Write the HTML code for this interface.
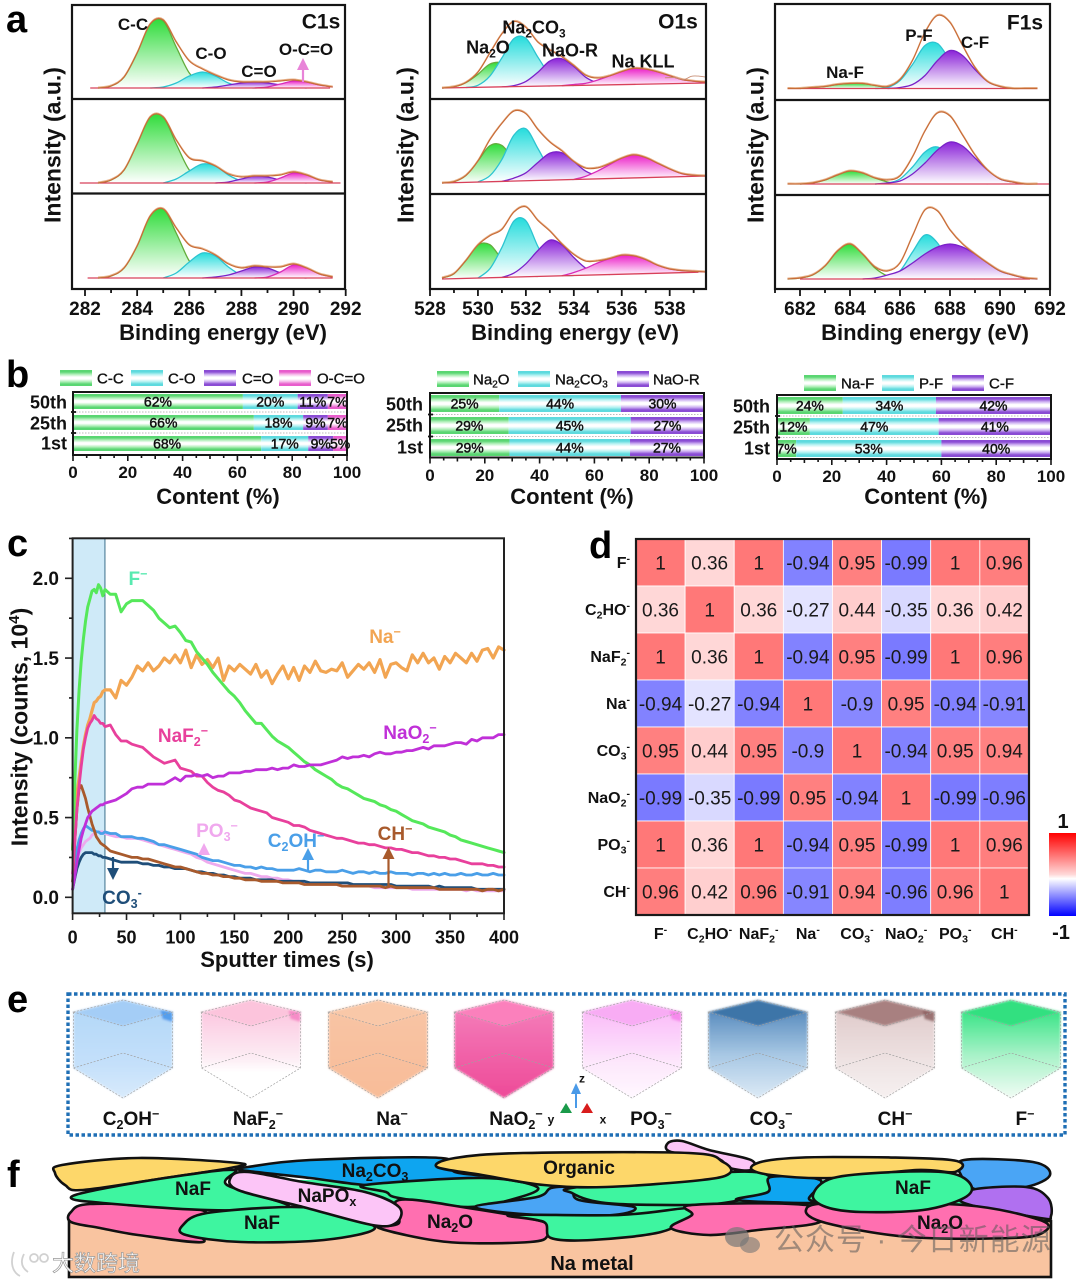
<!DOCTYPE html>
<html lang="en">
<head>
<meta charset="utf-8">
<title>Na metal SEI characterization figure</title>
<style>
html,body{margin:0;padding:0;background:#fff}
svg{display:block;filter:blur(.35px)}
text{font-family:"Liberation Sans","Noto Sans CJK SC",sans-serif;fill:#111}
.letter{font-size:38px;font-weight:bold;fill:#000}
</style>
</head>
<body>
<svg id="figure" xmlns="http://www.w3.org/2000/svg" width="1080" height="1282" viewBox="0 0 1080 1282">
  <defs id="defs">
    <linearGradient id="cb" x1="0" y1="0" x2="0" y2="1">
      <stop offset="0" stop-color="#f00"/><stop offset=".5" stop-color="#ffd8d8"/><stop offset=".55" stop-color="#fff"/><stop offset=".62" stop-color="#d8d8ff"/><stop offset="1" stop-color="#00f"/>
    </linearGradient>
    <filter id="soft" x="-5%" y="-5%" width="110%" height="110%"><feGaussianBlur stdDeviation="1.1"/></filter>
  </defs>
  <rect width="1080" height="1282" fill="#fff"/>
  <g id="panelA"></g>
  <g id="panelB"></g>
  <g id="panelC"></g>
  <g id="panelD"></g>
  <g id="panelE"></g>
  <g id="panelF"></g>
  <text class="letter" x="6" y="32">a</text>
  <text class="letter" x="6" y="387">b</text>
  <text class="letter" x="7" y="556">c</text>
  <text class="letter" x="589" y="558">d</text>
  <text class="letter" x="7" y="1012">e</text>
  <text class="letter" x="7" y="1187">f</text>
</svg>
<script>
/* ---------- Panel a: XPS data (energy grids and component intensities) ---------- */
const c1sEnergies = [282.5,283,283.5,284,284.5,285,285.5,286,286.5,287,287.5,288,288.5,289,289.5,290,290.5,291,291.5];
const c1sTopCC  = [0,2,11,35,64,67,41,15,3,0,0,0,0,0,0,0,0,0,0];
const c1sTopCO  = [0,0,0,0,0,1,5,12,16,12,5,1,0,0,0,0,0,0,0];
const c1sTopCdO = [0,0,0,0,0,0,0,0,0,1,3,5,6,5,3,1,0,0,0];
const c1sTopOCO = [0,0,0,0,0,0,0,0,0,0,0,0,0,1,4,7,6,3,1];
const c1sMidCC  = [0,3,13,39,66,66,39,13,3,0,0,0,0,0,0,0,0,0,0];
const c1sMidCO  = [0,0,0,0,0,0,4,12,19,17,8,2,0,0,0,0,0,0,0];
const c1sMidCdO = [0,0,0,0,0,0,0,0,0,0,1,4,7,6,3,1,0,0,0];
const c1sMidOCO = [0,0,0,0,0,0,0,0,0,0,0,0,0,1,5,10,8,3,1];
const c1sBotCC  = [0,2,10,32,62,69,45,17,4,0,0,0,0,0,0,0,0,0,0];
const c1sBotCO  = [0,0,0,0,0,0,5,16,25,22,11,3,1,0,0,0,0,0,0];
const c1sBotCdO = [0,0,0,0,0,0,0,0,0,1,3,7,11,10,5,1,0,0,0];
const c1sBotOCO = [0,0,0,0,0,0,0,0,0,0,0,0,0,1,6,13,10,4,1];

const o1sEnergies = [528.5,529,529.5,530,530.5,531,531.5,532,532.5,533,533.5,534,534.5,535,535.5,536,536.5,537,537.5,538,538.5,539,539.5];
const o1sTopNa2O   = [0,1,5,13,23,24,16,6,1,0,0,0,0,0,0,0,0,0,0,0,0,0,0];
const o1sTopNa2CO3 = [0,0,0,2,11,29,48,48,29,11,2,0,0,0,0,0,0,0,0,0,0,0,0];
const o1sTopNaOR   = [0,0,0,0,0,0,1,5,14,25,27,19,8,2,0,0,0,0,0,0,0,0,0];
const o1sTopKLL    = [0,0,0,0,0,0,0,0,0,0,0,1,2,5,9,13,16,15,12,8,4,2,1];
const o1sMidNa2O   = [0,1,7,21,36,36,21,7,1,0,0,0,0,0,0,0,0,0,0,0,0,0,0];
const o1sMidNa2CO3 = [0,0,0,0,6,22,46,52,32,11,2,0,0,0,0,0,0,0,0,0,0,0,0];
const o1sMidNaOR   = [0,0,0,0,0,0,3,8,18,27,27,18,8,3,1,0,0,0,0,0,0,0,0];
const o1sMidKLL    = [0,0,0,0,0,0,0,0,0,0,0,0,3,8,14,20,23,20,14,8,3,1,0];
const o1sBotNa2O   = [1,5,18,33,33,18,5,1,0,0,0,0,0,0,0,0,0,0,0,0,0,0,0];
const o1sBotNa2CO3 = [0,0,0,0,9,30,56,56,30,9,1,0,0,0,0,0,0,0,0,0,0,0,0];
const o1sBotNaOR   = [0,0,0,0,0,0,4,13,26,36,31,18,7,2,0,0,0,0,0,0,0,0,0];
const o1sBotKLL    = [0,0,0,0,0,0,0,0,0,0,0,3,7,12,16,19,18,14,8,4,2,1,0];
const o1sBackground = [5,7,7];
const o1sRawTailEnergies = [537.8,538.2,538.6,538.9,539.2,539.5];
const o1sRawTailValues = [6,6,4,7,7,6];

const f1sEnergies = [681.5,682,682.5,683,683.5,684,684.5,685,685.5,686,686.5,687,687.5,688,688.5,689,689.5,690,690.5,691,691.5];
const f1sTopNaF = [0,0,1,2,4,5,5,3,1,0,0,0,0,0,0,0,0,0,0,0,0];
const f1sTopPF  = [0,0,0,0,0,0,0,0,1,8,24,43,45,28,10,2,0,0,0,0,0];
const f1sTopCF  = [0,0,0,0,0,0,0,0,0,1,4,13,28,38,33,19,7,2,0,0,0];
const f1sMidNaF = [0,0,1,4,9,13,11,6,2,0,0,0,0,0,0,0,0,0,0,0,0];
const f1sMidPF  = [0,0,0,0,0,0,0,0,1,5,17,32,37,26,11,3,0,0,0,0,0];
const f1sMidCF  = [0,0,0,0,0,0,0,0,1,3,10,21,34,42,38,26,14,5,2,0,0];
const f1sBotNaF = [0,1,4,13,28,35,25,11,3,0,0,0,0,0,0,0,0,0,0,0,0];
const f1sBotPF  = [0,0,0,0,0,0,0,0,1,8,27,44,36,14,3,0,0,0,0,0,0];
const f1sBotCF  = [0,0,0,0,0,0,0,1,4,8,16,25,32,35,32,25,16,8,4,1,0];

/* ---------- Panel b: stacked content values ---------- */
const cycleLabels = ['50th','25th','1st'];
const c1sShares = [[62,20,11,7],[66,18,9,7],[68,17,9,5]];
const o1sShares = [[25,44,30],[29,45,27],[29,44,27]];
const f1sShares = [[24,34,42],[12,47,41],[7,53,40]];
const contentTicks = [0,20,40,60,80,100];

/* ---------- Panel c: depth profiles ---------- */
const sputterTimes = [0,2,4,6,8,10,12,14,16,18,20,22,24,26,28,30,35,40,45,50,55,60,65,70,75,80,85,90,95,100,105,110,115,120,125,130,135,140,145,150,155,160,165,170,175,180,185,190,195,200,205,210,215,220,225,230,235,240,245,250,255,260,265,270,275,280,285,290,295,300,305,310,315,320,325,330,335,340,345,350,355,360,365,370,375,380,385,390,395,400];
const seriesF = [.30,.72,1.05,1.30,1.48,1.62,1.73,1.82,1.87,1.92,1.93,1.91,1.96,1.94,1.89,1.93,1.90,1.90,1.79,1.84,1.86,1.86,1.86,1.83,1.80,1.75,1.72,1.69,1.70,1.66,1.61,1.60,1.54,1.50,1.46,1.41,1.37,1.33,1.29,1.26,1.22,1.17,1.13,1.09,1.09,1.05,1.01,.98,.96,.94,.91,.88,.85,.83,.80,.78,.76,.74,.71,.69,.68,.66,.64,.62,.61,.60,.58,.57,.55,.54,.52,.50,.48,.47,.46,.44,.43,.42,.41,.39,.38,.36,.35,.34,.33,.32,.31,.30,.29,.28];
const seriesNa = [.30,.50,.65,.75,.85,.95,1.02,1.08,1.12,1.17,1.22,1.23,1.25,1.26,1.29,1.30,1.30,1.25,1.36,1.33,1.38,1.45,1.42,1.47,1.42,1.45,1.50,1.47,1.52,1.47,1.55,1.44,1.52,1.46,1.49,1.44,1.50,1.36,1.45,1.42,1.46,1.43,1.40,1.46,1.38,1.42,1.34,1.40,1.45,1.37,1.44,1.36,1.45,1.41,1.48,1.42,1.41,1.43,1.42,1.47,1.38,1.42,1.46,1.43,1.47,1.41,1.49,1.38,1.46,1.47,1.44,1.42,1.52,1.47,1.53,1.47,1.50,1.43,1.51,1.47,1.53,1.50,1.47,1.53,1.48,1.55,1.56,1.50,1.57,1.55];
const seriesNaF2 = [.15,.35,.55,.70,.82,.93,1.00,1.06,1.09,1.11,1.14,1.12,1.11,1.09,1.09,1.07,1.08,1.02,.98,.98,.96,.95,.94,.91,.88,.86,.84,.85,.86,.81,.80,.79,.76,.76,.72,.69,.67,.66,.64,.61,.60,.58,.56,.55,.54,.53,.50,.49,.48,.47,.45,.45,.44,.42,.41,.40,.39,.38,.37,.37,.36,.35,.34,.34,.33,.33,.32,.31,.31,.30,.30,.29,.28,.28,.27,.26,.26,.25,.25,.24,.24,.23,.22,.21,.21,.21,.20,.20,.19,.19];
const seriesNaO2 = [.05,.13,.22,.30,.37,.42,.46,.50,.52,.54,.55,.56,.57,.58,.58,.59,.60,.61,.63,.65,.68,.69,.69,.71,.71,.71,.71,.73,.75,.73,.76,.76,.77,.76,.77,.75,.76,.76,.78,.78,.78,.79,.79,.80,.80,.80,.81,.80,.81,.81,.83,.82,.82,.83,.83,.83,.84,.85,.86,.88,.87,.88,.88,.89,.88,.90,.91,.90,.90,.91,.91,.92,.92,.93,.94,.93,.95,.95,.95,.96,.97,.97,.96,.99,.98,1.00,1.00,1.00,1.02,1.02];
const seriesPO3 = [.10,.17,.23,.28,.31,.33,.35,.36,.37,.39,.40,.41,.41,.41,.41,.40,.39,.38,.38,.37,.37,.37,.36,.35,.34,.33,.32,.31,.30,.29,.28,.27,.25,.24,.22,.21,.20,.19,.18,.17,.16,.15,.15,.14,.13,.13,.12,.12,.11,.11,.10,.10,.09,.09,.09,.08,.08,.08,.08,.07,.07,.07,.07,.07,.07,.06,.06,.06,.06,.06,.06,.06,.05,.05,.05,.05,.05,.05,.05,.05,.05,.05,.04,.05,.04,.04,.04,.04,.04,.04];
const seriesC2OH = [.10,.20,.30,.36,.40,.43,.45,.44,.43,.42,.42,.41,.41,.40,.40,.41,.40,.40,.38,.38,.38,.37,.37,.36,.35,.33,.33,.32,.31,.30,.29,.28,.27,.25,.24,.23,.23,.22,.21,.20,.20,.19,.19,.18,.19,.18,.18,.17,.17,.17,.17,.18,.17,.16,.17,.17,.16,.16,.16,.17,.16,.15,.16,.16,.15,.16,.15,.15,.16,.15,.15,.15,.14,.15,.15,.14,.15,.14,.15,.14,.14,.15,.14,.14,.15,.14,.14,.15,.14,.14];
const seriesCO3 = [.05,.12,.18,.22,.25,.27,.28,.28,.28,.28,.27,.27,.26,.26,.25,.25,.24,.23,.22,.22,.22,.22,.21,.21,.20,.20,.19,.19,.18,.18,.18,.17,.16,.16,.15,.15,.14,.14,.13,.13,.12,.12,.12,.11,.11,.11,.11,.10,.10,.10,.10,.10,.10,.09,.09,.09,.09,.09,.09,.09,.09,.08,.08,.08,.08,.08,.08,.08,.08,.07,.07,.07,.07,.07,.07,.07,.06,.07,.06,.06,.06,.06,.06,.06,.05,.05,.05,.05,.05,.05];
const seriesCH = [.10,.35,.55,.68,.70,.66,.62,.56,.51,.46,.42,.38,.36,.34,.33,.32,.29,.28,.27,.26,.25,.25,.24,.24,.23,.22,.21,.20,.19,.19,.18,.17,.16,.15,.15,.14,.14,.13,.13,.12,.12,.11,.11,.11,.10,.10,.10,.10,.09,.09,.09,.09,.08,.08,.08,.08,.08,.08,.08,.07,.07,.07,.07,.07,.07,.07,.07,.06,.07,.06,.06,.06,.06,.06,.06,.06,.06,.05,.05,.05,.05,.05,.05,.05,.05,.04,.05,.05,.04,.05];
const timeTicks = [0,50,100,150,200,250,300,350,400];
const intensityTicks = [0,0.5,1,1.5,2];

/* ---------- Panel d: correlation matrix ---------- */
const ionLabels = ['F^-','C_2HO^-','NaF_2^-','Na^-','CO_3^-','NaO_2^-','PO_3^-','CH^-'];
const corrF    = [1,.36,1,-.94,.95,-.99,1,.96];
const corrC2HO = [.36,1,.36,-.27,.44,-.35,.36,.42];
const corrNaF2 = [1,.36,1,-.94,.95,-.99,1,.96];
const corrNa   = [-.94,-.27,-.94,1,-.9,.95,-.94,-.91];
const corrCO3  = [.95,.44,.95,-.9,1,-.94,.95,.94];
const corrNaO2 = [-.99,-.35,-.99,.95,-.94,1,-.99,-.96];
const corrPO3  = [1,.36,1,-.94,.95,-.99,1,.96];
const corrCH   = [.96,.42,.96,-.91,.94,-.96,.96,1];

/* ---------- helpers ---------- */
const SVGNS = 'http://www.w3.org/2000/svg';
function mark(parent, tag, attrs, name, interact) {
  const node = document.createElementNS(SVGNS, tag);
  for (const k in attrs) node.setAttribute(k, attrs[k]);
  
  
  parent.appendChild(node);
  return node;
}
/* rich text: _x = subscript, ^x = superscript; y is the vertical centre */
function label(parent, cx, cy, str, opts, name) {
  const fs = opts.size;
  const t = mark(parent, 'text', {
    x: cx, y: cy + fs * 0.36,
    'text-anchor': opts.anchor || 'middle',
    'font-size': fs,
    'font-weight': opts.weight || 'bold',
    fill: opts.fill || '#111'
  }, name, false);
  t.style.fill = opts.fill || '#111';
  if (opts.stroke) { t.style.stroke = opts.stroke; t.style.strokeWidth = opts.strokeWidth || .3; }
  if (opts.rotate) t.setAttribute('transform', 'rotate(' + opts.rotate + ' ' + cx + ' ' + cy + ')');
  const parts = str.split(/([_^].)/).filter(s => s.length);
  let cur = 0;
  parts.forEach(p => {
    const span = document.createElementNS(SVGNS, 'tspan');
    let target = 0, txt = p;
    if (p[0] === '_') { target = fs * .22; txt = p.slice(1); span.setAttribute('font-size', fs * .66); }
    else if (p[0] === '^') { target = -fs * .36; txt = p.slice(1); span.setAttribute('font-size', fs * .66); }
    if (target !== cur) span.setAttribute('dy', target - cur);
    cur = target;
    span.textContent = txt;
    t.appendChild(span);
  });
  return t;
}
function smoothOpen(p) {
  let d = 'M' + p[0][0].toFixed(1) + ' ' + p[0][1].toFixed(1);
  for (let i = 0; i < p.length - 1; i++) {
    const a = p[Math.max(0, i - 1)], b = p[i], c = p[i + 1], e = p[Math.min(p.length - 1, i + 2)];
    d += 'C' + (b[0] + (c[0] - a[0]) / 6).toFixed(1) + ' ' + (b[1] + (c[1] - a[1]) / 6).toFixed(1) + ' ' +
      (c[0] - (e[0] - b[0]) / 6).toFixed(1) + ' ' + (c[1] - (e[1] - b[1]) / 6).toFixed(1) + ' ' + c[0].toFixed(1) + ' ' + c[1].toFixed(1);
  }
  return d;
}
function smoothClosed(p) {
  const n = p.length;
  let d = 'M' + p[0][0] + ' ' + p[0][1];
  for (let i = 0; i < n; i++) {
    const a = p[(i - 1 + n) % n], b = p[i], c = p[(i + 1) % n], e = p[(i + 2) % n];
    d += 'C' + (b[0] + (c[0] - a[0]) / 6).toFixed(1) + ' ' + (b[1] + (c[1] - a[1]) / 6).toFixed(1) + ' ' +
      (c[0] - (e[0] - b[0]) / 6).toFixed(1) + ' ' + (c[1] - (e[1] - b[1]) / 6).toFixed(1) + ' ' + c[0] + ' ' + c[1];
  }
  return d + 'Z';
}
const defs = document.getElementById('defs');
function vGrad(id, stops) {
  const g = document.createElementNS(SVGNS, 'linearGradient');
  g.setAttribute('id', id);
  g.setAttribute('x1', 0); g.setAttribute('y1', 0); g.setAttribute('x2', 0); g.setAttribute('y2', 1);
  stops.forEach(s => {
    const st = document.createElementNS(SVGNS, 'stop');
    st.setAttribute('offset', s[0]);
    st.setAttribute('stop-color', s[1]);
    g.appendChild(st);
  });
  defs.appendChild(g);
}
const peakColors = {
  green:  {top: '#2fdc3a', line: '#62ac3c', band: '#5ad672', soft: '#b4f0bc'},
  cyan:   {top: '#24dcdc', line: '#2cc4d0', band: '#5edade', soft: '#b8f2f2'},
  purple: {top: '#8a22d8', line: '#7a22c8', band: '#8a4cd4', soft: '#ceb2f2'},
  pink:   {top: '#ec20c8', line: '#d82cb8', band: '#e85ccc', soft: '#f6bcea'}
};
for (const k in peakColors) {
  const c = peakColors[k];
  vGrad('peak-' + k, [[0, c.top], [1, '#ffffff']]);
  vGrad('bar-' + k, [[0, c.band], [.12, c.band], [.28, c.soft], [.44, '#ffffff'], [.56, '#ffffff'], [.72, c.soft], [.88, c.band], [1, c.band]]);
}

/* ---------- Panel a ---------- */
const panelA = document.getElementById('panelA');
const rowNames = ['50th', '25th', '1st'];
function xpsPanel(cfg) {
  const g = mark(panelA, 'g', {}, 'xps-' + cfg.id, false);
  const xOf = e => cfg.x0 + (e - cfg.e0) * cfg.scale;
  const span = cfg.energies[cfg.energies.length - 1] - cfg.energies[0];
  cfg.rows.forEach((row, r) => {
    const bg = cfg.bg ? cfg.bg[r] : 0;
    const bgAt = e => bg * (e - cfg.energies[0]) / span;
    const yOf = (e, v) => cfg.base[r] - bgAt(e) - v;
    row.forEach((peak, pi) => {
      let a = peak.values.findIndex(v => v > 0);
      let b = peak.values.length - 1 - [...peak.values].reverse().findIndex(v => v > 0);
      a = Math.max(0, a - 1);
      b = Math.min(peak.values.length - 1, b + 1);
      const pts = [];
      for (let i = a; i <= b; i++) pts.push([xOf(cfg.energies[i]), yOf(cfg.energies[i], peak.values[i])]);
      const d = smoothOpen(pts);
      mark(g, 'path', {d: d + 'L' + pts[pts.length - 1][0].toFixed(1) + ' ' + yOf(cfg.energies[b], 0).toFixed(1) + 'L' + pts[0][0].toFixed(1) + ' ' + yOf(cfg.energies[a], 0).toFixed(1) + 'Z', fill: 'url(#peak-' + peak.color + ')'}, cfg.id + '-' + rowNames[r] + '-' + peak.key + '-fill', false);
      mark(g, 'path', {d: d, fill: 'none', stroke: peakColors[peak.color].line, 'stroke-width': 1.3}, cfg.id + '-' + rowNames[r] + '-' + peak.key + '-fit', false);
    });
    const sum = cfg.energies.map((e, i) => [xOf(e), yOf(e, row.reduce((s, p) => s + p.values[i], 0))]);
    const range = cfg.ranges[r];
    mark(g, 'line', {x1: xOf(range[0]), x2: xOf(range[1]), y1: yOf(range[0], 0), y2: yOf(range[1], 0), stroke: '#d8405a', 'stroke-width': 1.3}, cfg.id + '-' + rowNames[r] + '-background', false);
    mark(g, 'path', {d: smoothOpen(sum.map(p => [p[0], p[1] - 1])), fill: 'none', stroke: '#e8b48c', 'stroke-width': 1}, cfg.id + '-' + rowNames[r] + '-raw-spectrum', false);
    mark(g, 'path', {d: smoothOpen(sum), fill: 'none', stroke: '#c86c38', 'stroke-width': 1.2}, cfg.id + '-' + rowNames[r] + '-envelope', false);
    if (cfg.rawTail && r === 0) {
      const tail = cfg.rawTail.energies.map((e, i) => [xOf(e), yOf(e, cfg.rawTail.values[i])]);
      mark(g, 'path', {d: smoothOpen(tail), fill: 'none', stroke: '#c89078', 'stroke-width': .9}, cfg.id + '-raw-tail', false);
    }
  });
  mark(g, 'rect', {x: cfg.left, y: cfg.top, width: cfg.right - cfg.left, height: 289 - cfg.top, fill: 'none', stroke: '#151515', 'stroke-width': 2.2}, cfg.id + '-frame', false);
  cfg.dividers.forEach((y, i) => {
    mark(g, 'line', {x1: cfg.left, x2: cfg.right, y1: y, y2: y, stroke: '#151515', 'stroke-width': 2.2}, cfg.id + '-divider-' + (i + 1), false);
  });
  let tickD = '';
  for (let e = Math.ceil((cfg.left - cfg.x0) / cfg.scale + cfg.e0); xOf(e) <= cfg.right + 1; e++) {
    const major = (e % 2 === 0);
    tickD += 'M' + xOf(e) + ' 289V' + (289 + (major ? 7 : 4));
    if (major) label(g, xOf(e), 308, String(e), {size: 19}, cfg.id + '-x-tick-' + e);
  }
  mark(g, 'path', {d: tickD, stroke: '#151515', 'stroke-width': 1.8, fill: 'none'}, cfg.id + '-x-ticks', false);
  label(g, cfg.titleX, 332, 'Binding energy (eV)', {size: 22}, cfg.id + '-x-axis-title');
  label(g, cfg.yTitleX, 145, 'Intensity (a.u.)', {size: 23, rotate: -90}, cfg.id + '-y-axis-title');
  cfg.notes.forEach(n => label(g, n[0], n[1], n[2], {size: n[3] || 18}, cfg.id + '-label-' + n[2].replace(/[_^=]/g, '').toLowerCase().replace(/\s/g, '-')));
}
xpsPanel({
  id: 'c1s', energies: c1sEnergies, e0: 282, x0: 85, scale: 26.07, left: 72, right: 345, top: 5,
  base: [88, 183, 278], dividers: [99, 193.5],
  ranges: [[282.2, 291.4], [281.8, 291.8], [282.1, 291.5]],
  titleX: 223, yTitleX: 52,
  rows: [
    [{key: 'c-c', color: 'green', values: c1sTopCC}, {key: 'c-o', color: 'cyan', values: c1sTopCO}, {key: 'c-double-o', color: 'purple', values: c1sTopCdO}, {key: 'o-c-double-o', color: 'pink', values: c1sTopOCO}],
    [{key: 'c-c', color: 'green', values: c1sMidCC}, {key: 'c-o', color: 'cyan', values: c1sMidCO}, {key: 'c-double-o', color: 'purple', values: c1sMidCdO}, {key: 'o-c-double-o', color: 'pink', values: c1sMidOCO}],
    [{key: 'c-c', color: 'green', values: c1sBotCC}, {key: 'c-o', color: 'cyan', values: c1sBotCO}, {key: 'c-double-o', color: 'purple', values: c1sBotCdO}, {key: 'o-c-double-o', color: 'pink', values: c1sBotOCO}]
  ],
  notes: [[133, 24, 'C-C', 17], [211, 53, 'C-O', 17], [259, 71, 'C=O', 17], [306, 49, 'O-C=O', 17], [321, 21, 'C1s', 21]]
});
xpsPanel({
  id: 'o1s', energies: o1sEnergies, e0: 528, x0: 430, scale: 23.97, left: 430, right: 706, top: 4, bg: o1sBackground,
  base: [88, 183, 279], dividers: [99, 194],
  ranges: [[528.5, 539.5], [528.5, 539.5], [528.5, 539.2]],
  titleX: 575, yTitleX: 405,
  rawTail: {energies: o1sRawTailEnergies, values: o1sRawTailValues},
  rows: [
    [{key: 'na2o', color: 'green', values: o1sTopNa2O}, {key: 'na2co3', color: 'cyan', values: o1sTopNa2CO3}, {key: 'nao-r', color: 'purple', values: o1sTopNaOR}, {key: 'na-kll', color: 'pink', values: o1sTopKLL}],
    [{key: 'na2o', color: 'green', values: o1sMidNa2O}, {key: 'na2co3', color: 'cyan', values: o1sMidNa2CO3}, {key: 'nao-r', color: 'purple', values: o1sMidNaOR}, {key: 'na-kll', color: 'pink', values: o1sMidKLL}],
    [{key: 'na2o', color: 'green', values: o1sBotNa2O}, {key: 'na2co3', color: 'cyan', values: o1sBotNa2CO3}, {key: 'nao-r', color: 'purple', values: o1sBotNaOR}, {key: 'na-kll', color: 'pink', values: o1sBotKLL}]
  ],
  notes: [[488, 47, 'Na_2O', 18], [534, 27, 'Na_2CO_3', 18], [570, 50, 'NaO-R', 18], [643, 61, 'Na KLL', 18], [678, 21, 'O1s', 21]]
});
xpsPanel({
  id: 'f1s', energies: f1sEnergies, e0: 682, x0: 800, scale: 25, left: 775, right: 1050, top: 4,
  base: [88.5, 184, 279], dividers: [100, 195],
  ranges: [[681.5, 691.5], [682, 692], [682, 691.2]],
  titleX: 925, yTitleX: 755,
  rows: [
    [{key: 'na-f', color: 'green', values: f1sTopNaF}, {key: 'p-f', color: 'cyan', values: f1sTopPF}, {key: 'c-f', color: 'purple', values: f1sTopCF}],
    [{key: 'na-f', color: 'green', values: f1sMidNaF}, {key: 'p-f', color: 'cyan', values: f1sMidPF}, {key: 'c-f', color: 'purple', values: f1sMidCF}],
    [{key: 'na-f', color: 'green', values: f1sBotNaF}, {key: 'p-f', color: 'cyan', values: f1sBotPF}, {key: 'c-f', color: 'purple', values: f1sBotCF}]
  ],
  notes: [[845, 72, 'Na-F', 17], [919, 35, 'P-F', 17], [975, 42, 'C-F', 17], [1025, 22, 'F1s', 21]]
});
mark(panelA, 'path', {d: 'M303 82V68', stroke: '#e884d8', 'stroke-width': 2.2, fill: 'none'}, 'o-c-o-arrow-shaft', false);
mark(panelA, 'path', {d: 'M303 58L309 70H297Z', fill: '#e884d8'}, 'o-c-o-arrow-head', false);

/* ---------- Panel b ---------- */
const panelB = document.getElementById('panelB');
function barPanel(cfg) {
  const g = mark(panelB, 'g', {}, 'bars-' + cfg.id, false);
  const xOf = v => cfg.left + v * (cfg.right - cfg.left) / 100;
  cfg.legend.forEach((l, i) => {
    mark(g, 'rect', {x: l[0], y: cfg.legendY - 8, width: 32, height: 16, fill: 'url(#bar-' + cfg.colors[i] + ')'}, cfg.id + '-legend-swatch-' + (i + 1), false);
    label(g, l[1], cfg.legendY, l[2], {size: 15, anchor: 'start', weight: 'normal', stroke: '#111', strokeWidth: .35}, cfg.id + '-legend-label-' + (i + 1));
  });
  cfg.shares.forEach((row, r) => {
    const y0 = cfg.barY[r];
    const total = row.reduce((s, v) => s + v, 0);
    const norm = 100 / total;
    let cum = 0;
    row.forEach((v, i) => {
      mark(g, 'rect', {x: xOf(cum), y: y0, width: xOf(v * norm) - xOf(0), height: cfg.barH, fill: 'url(#bar-' + cfg.colors[i] + ')'}, cfg.id + '-' + cycleLabels[r] + '-segment-' + (i + 1), false);
      cum += v * norm;
    });
    cum = 0;
    row.forEach((v, i) => {
      label(g, xOf(cum + v * norm / 2), y0 + cfg.barH / 2, v + '%', {size: 14, weight: 'normal', stroke: '#111', strokeWidth: .45}, cfg.id + '-' + cycleLabels[r] + '-value-' + (i + 1));
      cum += v * norm;
    });
    label(g, cfg.catX, cfg.catY[r], cycleLabels[r], {size: 18, anchor: 'end'}, cfg.id + '-category-' + cycleLabels[r]);
    if (r < 2) {
      const sep = (cfg.barY[r] + cfg.barH + cfg.barY[r + 1]) / 2;
      mark(g, 'line', {x1: cfg.left, x2: cfg.right, y1: sep, y2: sep, stroke: '#bbb', 'stroke-width': 1, 'stroke-dasharray': '1.5 1.5'}, cfg.id + '-row-separator-' + (r + 1), false);
      mark(g, 'line', {x1: cfg.left - 2, x2: cfg.left + 3, y1: sep, y2: sep, stroke: '#111', 'stroke-width': 1.8}, cfg.id + '-y-tick-' + (r + 1), false);
    }
  });
  mark(g, 'rect', {x: cfg.left, y: cfg.top, width: cfg.right - cfg.left, height: cfg.bottom - cfg.top, fill: 'none', stroke: '#151515', 'stroke-width': 2}, cfg.id + '-frame', false);
  let d = '';
  for (let v = 0; v <= 100; v += 5) {
    d += 'M' + xOf(v) + ' ' + cfg.bottom + 'V' + (cfg.bottom + (v % 20 === 0 ? 6 : (v % 10 === 0 ? 4 : 3)));
  }
  mark(g, 'path', {d: d, stroke: '#151515', 'stroke-width': 1.6, fill: 'none'}, cfg.id + '-x-ticks', false);
  contentTicks.forEach(v => label(g, xOf(v), cfg.tickY, String(v), {size: 17}, cfg.id + '-x-tick-' + v));
  label(g, cfg.titleX, 496, 'Content (%)', {size: 22}, cfg.id + '-x-axis-title');
}
barPanel({id: 'c1s', left: 73, right: 347, top: 392, bottom: 455, barY: [394, 415, 436], barH: 15, catX: 67, catY: [402, 423, 443], tickY: 472, titleX: 218, legendY: 378, shares: c1sShares, colors: ['green', 'cyan', 'purple', 'pink'],
  legend: [[60, 97, 'C-C'], [131, 168, 'C-O'], [204, 242, 'C=O'], [279, 317, 'O-C=O']]});
barPanel({id: 'o1s', left: 430, right: 704, top: 393, bottom: 457.5, barY: [395, 417, 439], barH: 17, catX: 423, catY: [404, 425, 447], tickY: 475, titleX: 572, legendY: 379, shares: o1sShares, colors: ['green', 'cyan', 'purple'],
  legend: [[437, 473, 'Na_2O'], [518, 555, 'Na_2CO_3'], [617, 653, 'NaO-R']]});
barPanel({id: 'f1s', left: 777, right: 1051, top: 395, bottom: 459, barY: [397, 418, 440], barH: 17, catX: 770, catY: [406, 427, 448], tickY: 476, titleX: 926, legendY: 383, shares: f1sShares, colors: ['green', 'cyan', 'purple'],
  legend: [[804, 841, 'Na-F'], [882, 919, 'P-F'], [952, 989, 'C-F']]});

/* ---------- Panel c ---------- */
const panelC = document.getElementById('panelC');
const cx = t => 72.6 + t * 1.0785;
const cy = v => 897.3 - v * 159.5;
mark(panelC, 'rect', {x: cx(0), y: 538.3, width: cx(30) - cx(0), height: 375, fill: '#cfeaf8'}, 'surface-region-band', false);
mark(panelC, 'line', {x1: cx(30), x2: cx(30), y1: 538.3, y2: 913.3, stroke: '#3c6f8c', 'stroke-width': 1}, 'surface-region-edge', false);
function drawSeries(values, color, name, width) {
  const d = values.map((v, i) => (i ? 'L' : 'M') + cx(sputterTimes[i]).toFixed(1) + ' ' + cy(v).toFixed(1)).join('');
  mark(panelC, 'path', {d: d, fill: 'none', stroke: color, 'stroke-width': width || 2.8, 'stroke-linejoin': 'round', 'stroke-linecap': 'round'}, name, false);
}
drawSeries(seriesPO3, '#eeaaee', 'series-po3');
drawSeries(seriesC2OH, '#4a9fe8', 'series-c2oh');
drawSeries(seriesCO3, '#1f4e79', 'series-co3');
drawSeries(seriesCH, '#a85a2c', 'series-ch');
drawSeries(seriesNa, '#f2a552', 'series-na', 3.2);
drawSeries(seriesF, '#55e85a', 'series-f', 3);
drawSeries(seriesNaF2, '#e8409c', 'series-naf2');
drawSeries(seriesNaO2, '#c030d8', 'series-nao2');
mark(panelC, 'rect', {x: 72.6, y: 538.3, width: 431.4, height: 375, fill: 'none', stroke: '#222', 'stroke-width': 2}, 'depth-plot-frame', false);
(function () {
  let d = '';
  for (let t = 0; t <= 400; t += 25) d += 'M' + cx(t) + ' 913.3V' + (t % 50 === 0 ? 920 : 917);
  for (let v = -.25 + .25; v <= 2.25; v += .25) d += 'M72.6 ' + cy(v) + 'H' + (v % .5 === 0 ? 65 : 69);
  mark(panelC, 'path', {d: d, stroke: '#222', 'stroke-width': 1.6, fill: 'none'}, 'depth-plot-ticks', false);
})();
timeTicks.forEach(t => label(panelC, cx(t), 937, String(t), {size: 18}, 'x-tick-' + t));
intensityTicks.forEach(v => label(panelC, 59, cy(v), v.toFixed(1), {size: 19, anchor: 'end'}, 'y-tick-' + v));
label(panelC, 287, 959, 'Sputter times (s)', {size: 22}, 'depth-x-axis-title');
label(panelC, 19, 727, 'Intensity (counts, 10^4)', {size: 23, rotate: -90}, 'depth-y-axis-title');
label(panelC, 138, 578, 'F^−', {size: 19, fill: '#58eab0'}, 'label-f');
label(panelC, 385, 636, 'Na^−', {size: 19, fill: '#f2a552'}, 'label-na');
label(panelC, 183, 735, 'NaF_2^−', {size: 19, fill: '#e8409c'}, 'label-naf2');
label(panelC, 410, 732, 'NaO_2^−', {size: 19, fill: '#c030d8'}, 'label-nao2');
label(panelC, 217, 830, 'PO_3^−', {size: 19, fill: '#f0a8ee'}, 'label-po3');
label(panelC, 296, 840, 'C_2OH^−', {size: 19, fill: '#4a9fe8'}, 'label-c2oh');
label(panelC, 395, 833, 'CH^−', {size: 19, fill: '#a85a2c'}, 'label-ch');
label(panelC, 122, 897, 'CO_3^-', {size: 19, fill: '#1f4e79'}, 'label-co3');
function arrow(x, y1, y2, color, name) {
  const dir = y2 < y1 ? 1 : -1;
  mark(panelC, 'line', {x1: x, x2: x, y1: y1, y2: y2 + dir * 10, stroke: color, 'stroke-width': 2.2}, name + '-shaft', false);
  mark(panelC, 'path', {d: 'M' + x + ' ' + y2 + 'L' + (x + 6) + ' ' + (y2 + dir * 12) + 'H' + (x - 6) + 'Z', fill: color}, name + '-head', false);
}
arrow(113, 857, 880, '#1f4e79', 'co3-arrow');
arrow(204, 855, 843, '#f0a8ee', 'po3-arrow');
arrow(308, 872, 848, '#4a9fe8', 'c2oh-arrow');
arrow(388.5, 887, 847, '#a85a2c', 'ch-arrow');

/* ---------- Panel d ---------- */
const panelD = document.getElementById('panelD');
const corrRows = [corrF, corrC2HO, corrNaF2, corrNa, corrCO3, corrNaO2, corrPO3, corrCH];
const dx = i => 636 + i * 49.12;
const dy = i => 539 + i * 47;
function corrColor(v) {
  const k = Math.round(255 - 135 * Math.pow(Math.abs(v), 1.2));
  return v >= 0 ? 'rgb(255,' + k + ',' + k + ')' : 'rgb(' + k + ',' + k + ',255)';
}
corrRows.forEach((row, r) => {
  row.forEach((v, c) => {
    mark(panelD, 'rect', {x: dx(c), y: dy(r), width: 49.12, height: 47, fill: corrColor(v), stroke: '#fff', 'stroke-width': .8}, 'heatmap-cell-' + r + '-' + c, false);
  });
});
corrRows.forEach((row, r) => {
  row.forEach((v, c) => {
    label(panelD, dx(c) + 24.5, dy(r) + 23.5, String(v), {size: 19, weight: 'normal', fill: '#1a1a1a'}, 'heatmap-value-' + r + '-' + c);
  });
  label(panelD, 630, dy(r) + 23, ionLabels[r], {size: 16, anchor: 'end'}, 'heatmap-row-label-' + r);
  label(panelD, dx(r) + 24.5, 933, ionLabels[r], {size: 16}, 'heatmap-col-label-' + r);
});
mark(panelD, 'rect', {x: 636, y: 539, width: 393, height: 376, fill: 'none', stroke: '#1a1a1a', 'stroke-width': 2.2}, 'heatmap-frame', false);
mark(panelD, 'rect', {x: 1049, y: 833, width: 27, height: 83, fill: 'url(#cb)'}, 'colorbar', false);
label(panelD, 1063, 821, '1', {size: 20}, 'colorbar-max-label');
label(panelD, 1061, 932, '-1', {size: 20}, 'colorbar-min-label');

/* ---------- Panel e ---------- */
const panelE = document.getElementById('panelE');
mark(panelE, 'rect', {x: 68, y: 994, width: 997, height: 141, fill: 'none', stroke: '#1f6fb5', 'stroke-width': 3.4, 'stroke-dasharray': '3.5 2.5'}, 'cube-panel-dashed-border', false);
const cubes = [
  {id: 'c2oh', cx: 123, labelX: 131, label: 'C_2OH^−', top: '#a4cdf6', s: [[0, '#b4d8f8'], [.6, '#c4e0fa'], [1, '#d8eafc']], corner: '#3c8ee8'},
  {id: 'naf2', cx: 251, labelX: 258, label: 'NaF_2^−', top: '#fcc4dc', s: [[0, '#fcc8e0'], [.55, '#fdeef5'], [.7, '#ffffff'], [1, '#ffffff']], corner: '#f47cc0'},
  {id: 'na', cx: 378, labelX: 392, label: 'Na^−', top: '#f9c8a8', s: [[0, '#f8c4a4'], [1, '#f8bc98']], corner: null},
  {id: 'nao2', cx: 504, labelX: 516, label: 'NaO_2^−', top: '#fb80bc', s: [[0, '#f47ab8'], [1, '#ee4a98']], corner: null},
  {id: 'po3', cx: 632, labelX: 651, label: 'PO_3^−', top: '#f8acf4', s: [[0, '#fabcf8'], [.6, '#fde8fc'], [1, '#fff8ff']], corner: '#f57ce8'},
  {id: 'co3', cx: 758, labelX: 771, label: 'CO_3^−', top: '#3e74a8', s: [[0, '#5c8ec0'], [.5, '#a8c8e4'], [1, '#dceaf6']], corner: null},
  {id: 'ch', cx: 885, labelX: 895, label: 'CH^−', top: '#a88080', s: [[0, '#e0cccc'], [.6, '#efe4e4'], [1, '#f6f0f0']], corner: '#8a5c5c'},
  {id: 'f', cx: 1011, labelX: 1025, label: 'F^−', top: '#30e080', s: [[0, '#3ce488'], [.5, '#a8f2c8'], [1, '#f0fcf4']], corner: null}
];
cubes.forEach(c => {
  vGrad('cube-' + c.id, c.s);
  const x = c.cx, L = x - 49.5, R = x + 49.5;
  const solid = mark(panelE, 'g', {filter: 'url(#soft)'}, 'cube-' + c.id + '-volume', false);
  mark(solid, 'path', {d: 'M' + L + ' 1012L' + x + ' 1026L' + R + ' 1012V1068L' + x + ' 1098L' + L + ' 1068Z', fill: 'url(#cube-' + c.id + ')'}, 'cube-' + c.id + '-body', false);
  mark(solid, 'path', {d: 'M' + x + ' 1000L' + R + ' 1012L' + x + ' 1026L' + L + ' 1012Z', fill: c.top}, 'cube-' + c.id + '-top-face', false);
  if (c.corner) {
    mark(solid, 'path', {d: 'M' + (R - 12) + ' 1010L' + R + ' 1012V1022L' + (R - 10) + ' 1019Z', fill: c.corner, opacity: .8}, 'cube-' + c.id + '-corner-hotspot', false);
  }
  mark(panelE, 'path', {d: 'M' + L + ' 1012L' + x + ' 1000L' + R + ' 1012L' + x + ' 1026Z M' + L + ' 1012V1068L' + x + ' 1098L' + R + ' 1068V1012 M' + L + ' 1068L' + x + ' 1053L' + R + ' 1068', fill: 'none', stroke: '#a0a0a0', 'stroke-width': .7, 'stroke-dasharray': '2 1.5'}, 'cube-' + c.id + '-edges', false);
  label(panelE, c.labelX, 1118, c.label, {size: 19}, 'cube-' + c.id + '-label');
});
mark(panelE, 'line', {x1: 576, x2: 576, y1: 1108, y2: 1090, stroke: '#4a9ae8', 'stroke-width': 2}, 'axis-triad-z', false);
mark(panelE, 'path', {d: 'M576 1083L581 1094H571Z', fill: '#4a9ae8'}, 'axis-triad-z-head', false);
mark(panelE, 'path', {d: 'M566 1103L572 1113H560Z', fill: '#1a9a4a'}, 'axis-triad-y-head', false);
mark(panelE, 'path', {d: 'M587 1103L593 1113H581Z', fill: '#d81c1c'}, 'axis-triad-x-head', false);
label(panelE, 582, 1078, 'z', {size: 12}, 'axis-triad-z-label');
label(panelE, 551, 1119, 'y', {size: 12}, 'axis-triad-y-label');
label(panelE, 603, 1119, 'x', {size: 12}, 'axis-triad-x-label');

/* ---------- Panel f ---------- */
const panelF = document.getElementById('panelF');
mark(panelF, 'rect', {x: 69, y: 1221, width: 982, height: 56, fill: '#f9c4a0', stroke: '#111', 'stroke-width': 2.6}, 'na-metal-layer', false);
const seiYellow = '#fdd76a', seiGreen = '#3ef5a0', seiBlue = '#0ea5f0', seiSky = '#4aa5f5', seiLilac = '#fcc5f7', seiPink = '#ff6fb0', seiPurple = '#b070f0';
mark(panelF, 'rect', {x: 300, y: 1180, width: 700, height: 36, fill: seiGreen}, 'sei-matrix-fill', false);
const grains = [
  ['yellow-left', seiYellow, [[55,1173],[62,1165],[138,1158],[238,1163],[230,1168],[165,1178],[83,1190],[65,1185]]],
  ['pink-left', seiPink, [[71,1212],[90,1204],[172,1206],[207,1213],[186,1225],[203,1242],[138,1235],[100,1228],[71,1222]]],
  ['naf-left', seiGreen, [[71,1198],[96,1190],[172,1177],[234,1170],[227,1185],[289,1207],[207,1210],[103,1203]]],
  ['naf-lower', seiGreen, [[183,1225],[207,1213],[289,1207],[331,1212],[375,1228],[324,1240],[241,1242],[186,1235]]],
  ['na2co3-top', seiBlue, [[248,1167],[310,1160],[441,1158],[455,1172],[496,1178],[413,1185],[365,1185],[310,1178],[241,1170]]],
  ['green-middle', seiGreen, [[365,1185],[482,1178],[537,1187],[517,1198],[468,1207],[399,1198],[386,1192]]],
  ['blue-center', seiSky, [[551,1188],[572,1188],[579,1200],[634,1207],[613,1215],[537,1215],[475,1207],[537,1197]]],
  ['na2o-center', seiPink, [[399,1200],[468,1208],[544,1222],[548,1235],[530,1242],[448,1242],[379,1228],[399,1223]]],
  ['napox', seiLilac, [[231,1177],[248,1172],[303,1182],[365,1192],[399,1207],[396,1223],[372,1225],[303,1207],[238,1190]]],
  ['green-lower-center', seiGreen, [[510,1215],[620,1215],[689,1208],[692,1215],[661,1232],[592,1240],[551,1238],[544,1222]]],
  ['green-right-center', seiGreen, [[572,1193],[579,1187],[730,1172],[771,1177],[768,1192],[730,1202],[689,1205],[606,1203]]],
  ['lilac-top', seiLilac, [[668,1143],[682,1141],[709,1150],[751,1160],[751,1170],[730,1168],[716,1158],[671,1152]]],
  ['organic', seiYellow, [[437,1167],[455,1158],[523,1153],[689,1153],[723,1162],[730,1173],[702,1180],[606,1187],[544,1185],[482,1175]]],
  ['pink-right-center', seiPink, [[692,1205],[806,1205],[820,1222],[758,1230],[709,1235],[671,1228],[692,1215]]],
  ['blue-right-center', seiBlue, [[771,1177],[820,1180],[809,1198],[813,1203],[737,1200],[768,1192]]],
  ['blue-right-top', seiSky, [[964,1160],[1033,1162],[1050,1175],[1026,1187],[978,1190],[961,1175]]],
  ['yellow-right', seiYellow, [[751,1168],[771,1160],[833,1157],[951,1160],[955,1172],[916,1170],[833,1178],[771,1175]]],
  ['purple-right', seiPurple, [[971,1190],[1026,1187],[1048,1198],[1051,1216],[1040,1218],[964,1203]]],
  ['na2o-right', seiPink, [[806,1210],[833,1203],[964,1205],[1040,1220],[1044,1232],[1012,1238],[909,1237],[826,1223]]],
  ['naf-right', seiGreen, [[813,1195],[833,1178],[895,1172],[950,1173],[971,1185],[964,1198],[923,1210],[861,1212],[826,1207]]]
];
grains.forEach(g => {
  mark(panelF, 'path', {d: smoothClosed(g[2]), fill: g[1], stroke: '#111', 'stroke-width': 2.6, 'stroke-linejoin': 'round'}, 'sei-grain-' + g[0], false);
});
label(panelF, 375, 1170, 'Na_2CO_3', {size: 19}, 'sei-label-na2co3');
label(panelF, 579, 1167, 'Organic', {size: 19}, 'sei-label-organic');
label(panelF, 193, 1188, 'NaF', {size: 19}, 'sei-label-naf-left');
label(panelF, 327, 1195, 'NaPO_x', {size: 19}, 'sei-label-napox');
label(panelF, 262, 1222, 'NaF', {size: 19}, 'sei-label-naf-lower');
label(panelF, 450, 1221, 'Na_2O', {size: 19}, 'sei-label-na2o-center');
label(panelF, 913, 1187, 'NaF', {size: 19}, 'sei-label-naf-right');
label(panelF, 940, 1222, 'Na_2O', {size: 19}, 'sei-label-na2o-right');
label(panelF, 592, 1263, 'Na metal', {size: 20}, 'sei-label-na-metal');

/* watermarks */
mark(panelF, 'ellipse', {cx: 737, cy: 1237, rx: 12, ry: 10, fill: '#777', opacity: .7}, 'watermark-icon-bubble-large', false);
mark(panelF, 'ellipse', {cx: 750, cy: 1245, rx: 10, ry: 8, fill: '#777', opacity: .6}, 'watermark-icon-bubble-small', false);
const wm = mark(panelF, 'text', {x: 774, y: 1250, 'font-size': 30, 'letter-spacing': 1}, 'watermark-wechat-account', false);
wm.style.fill = 'rgba(90,90,90,.55)';
wm.textContent = '公众号 · 今日新能源';
const wm2 = mark(panelF, 'text', {x: 52, y: 1271, 'font-size': 22}, 'watermark-brand', false);
wm2.style.fill = '#fff';
wm2.style.stroke = '#999';
wm2.style.strokeWidth = '.7';
wm2.textContent = '大数跨境';
mark(panelF, 'path', {d: 'M14 1252C10 1262 12 1272 20 1276M24 1254C20 1262 22 1268 28 1272M30 1258a4 4 0 1 0 8 0a4 4 0 1 0 -8 0M40 1258a4 4 0 1 0 8 0a4 4 0 1 0 -8 0', fill: 'none', stroke: '#ccc', 'stroke-width': 1.8, opacity: .9}, 'watermark-brand-logo', false);
</script>
</body>
</html>
